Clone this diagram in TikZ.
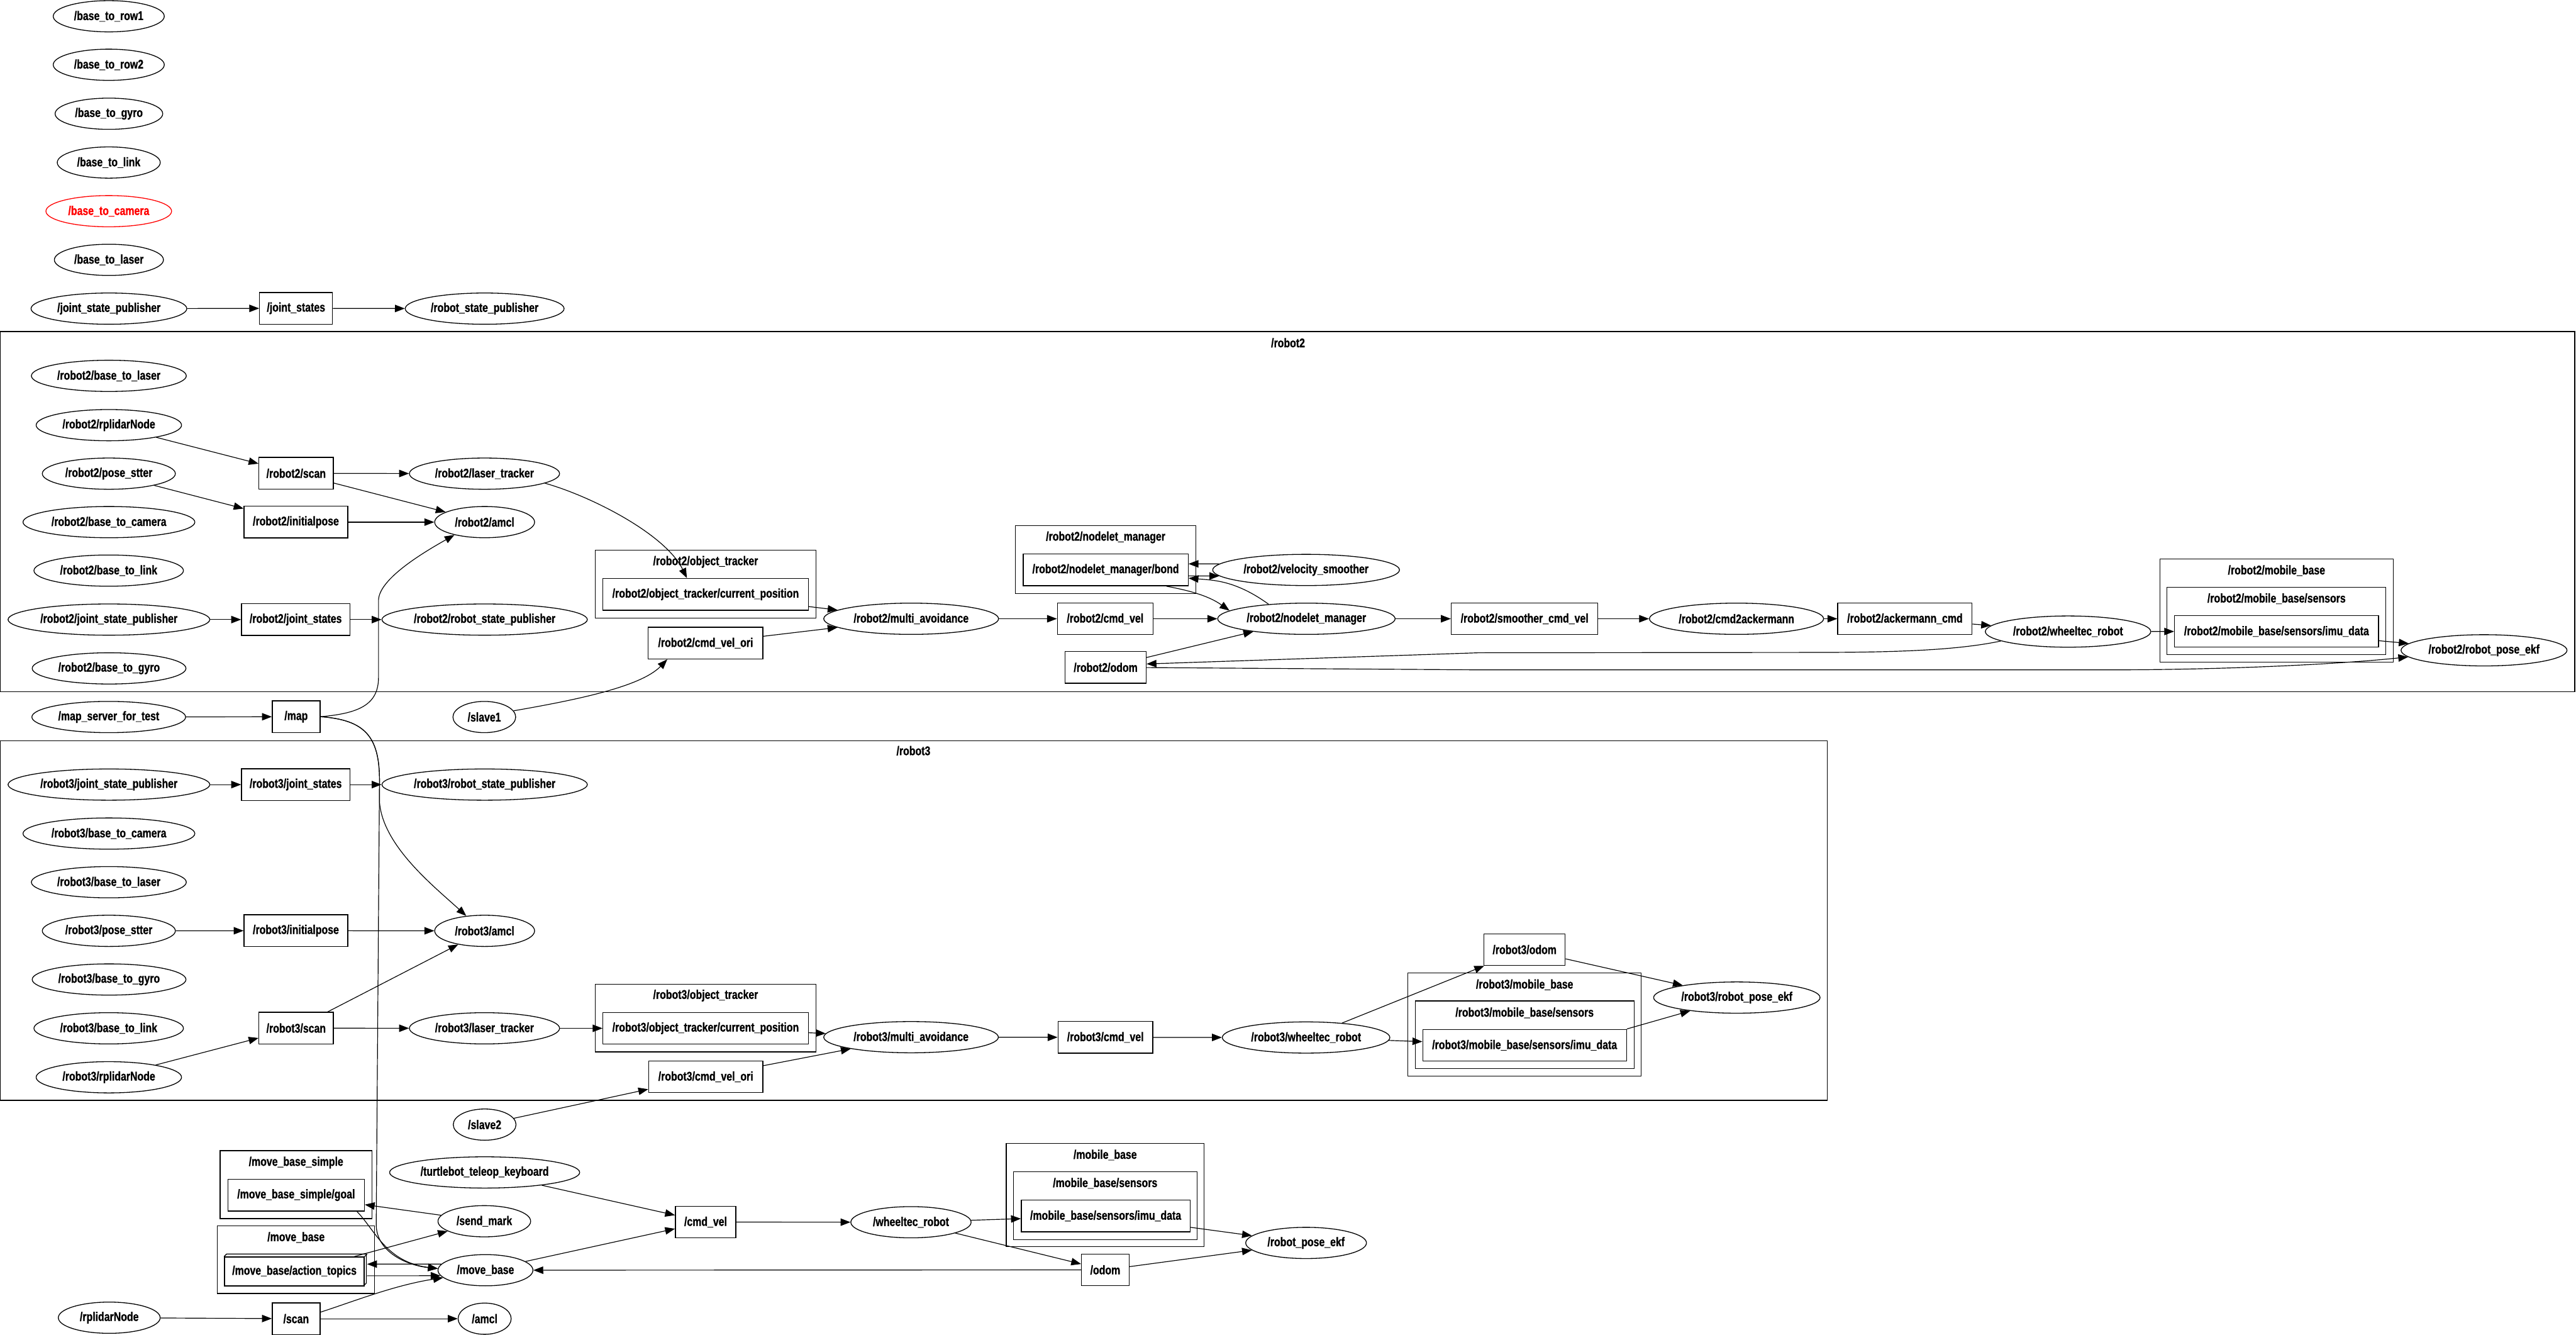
\documentclass[tikz,border=0pt]{standalone}
\usepackage{fontspec}
\newfontfamily\graphfont{Liberation Sans}[FakeStretch=0.79,BoldFeatures={FakeBold=0.8}]
\usetikzlibrary{shapes.geometric,arrows.meta}
\begin{document}
\begin{tikzpicture}[x=1mm,y=-1mm,
 every node/.style={font=\graphfont\bfseries\fontsize{21.9}{26}\selectfont},
 ell/.style={ellipse,draw,line width=0.5mm,inner sep=0pt,minimum height=19mm},
 tbox/.style={rectangle,draw,line width=0.5mm,inner sep=0pt,minimum height=19.3mm},
 clu/.style={draw,line width=0.5mm},
 lab/.style={inner sep=0pt},
 arr/.style={-{Triangle[length=6mm,width=4.5mm]},line width=0.45mm}]
\fill[white] (0,0) rectangle (1568,812);
\useasboundingbox (0,0) rectangle (1568,812);

% ---------- clusters ----------
\draw[clu] (0,201.7) rectangle (1567.2,420.8);
\node[lab] (lr2) at (784,208.6) {/robot2};
\draw[clu] (0,450.7) rectangle (1112.3,669.5);
\node[lab] (lr3) at (556,456.8) {/robot3};
\draw[clu] (362.3,334.7) rectangle (496.8,376);
\node[lab] (lr2ot) at (429.5,341.9) {/robot2/object\_tracker};
\draw[clu] (618.1,319.9) rectangle (727.9,361.1);
\node[lab] (lr2nmc) at (673,327) {/robot2/nodelet\_manager};
\draw[clu] (1314.7,340.2) rectangle (1456.7,402.8);
\node[lab] (lr2mb) at (1385.7,347.2) {/robot2/mobile\_base};
\draw[clu] (1319,357.3) rectangle (1452.3,398.4);
\node[lab] (lr2ms) at (1385.7,364.3) {/robot2/mobile\_base/sensors};
\draw[clu] (362.2,598.8) rectangle (496.7,640);
\node[lab] (lr3ot) at (429.5,605.8) {/robot3/object\_tracker};
\draw[clu] (857,591.9) rectangle (999,654.9);
\node[lab] (lr3mb) at (928,599.2) {/robot3/mobile\_base};
\draw[clu] (861.4,609.1) rectangle (994.6,650.3);
\node[lab] (lr3ms) at (928,616.3) {/robot3/mobile\_base/sensors};
\draw[clu] (134,700.2) rectangle (226.4,741.5);
\node[lab] (lmbs) at (180.2,707.4) {/move\_base\_simple};
\draw[clu] (132.3,745.8) rectangle (228,787.1);
\node[lab] (lmbc) at (180.2,752.9) {/move\_base};
\draw[clu] (612.5,695.8) rectangle (733,758.6);
\node[lab] (lmob) at (672.7,702.8) {/mobile\_base};
\draw[clu] (616.9,713) rectangle (728.8,754.3);
\node[lab] (lmobs) at (672.7,720) {/mobile\_base/sensors};

% ---------- top ----------
\node[ell,minimum width=67.6mm] (row1) at (66.2,9.9) {/base\_to\_row1};
\node[ell,minimum width=67.6mm] (row2) at (66.2,39.4) {/base\_to\_row2};
\node[ell,minimum width=65.5mm] (gyro) at (66.3,69.2) {/base\_to\_gyro};
\node[ell,minimum width=62.7mm] (link) at (66.2,98.9) {/base\_to\_link};
\node[ell,minimum width=76.5mm,draw=red,text=red] (cam) at (66.2,128.5) {/base\_to\_camera};
\node[ell,minimum width=66.4mm] (las) at (66.3,158.1) {/base\_to\_laser};
\node[ell,minimum width=94.8mm] (jsp) at (66.3,187.8) {/joint\_state\_publisher};
\node[tbox,minimum width=44.4mm] (js) at (180.2,187.6) {/joint\_states};
\node[ell,minimum width=96.7mm] (rsp) at (295,187.8) {/robot\_state\_publisher};

% ---------- robot2 ----------
\node[ell,minimum width=94.3mm] (r2btl) at (66.25,228.7) {/robot2/base\_to\_laser};
\node[ell,minimum width=88.5mm] (r2rp) at (66.25,258.7) {/robot2/rplidarNode};
\node[ell,minimum width=81mm] (r2ps) at (66.25,288.2) {/robot2/pose\_stter};
\node[ell,minimum width=104.6mm] (r2btc) at (66.3,317.7) {/robot2/base\_to\_camera};
\node[ell,minimum width=91mm] (r2btk) at (66.15,347.2) {/robot2/base\_to\_link};
\node[ell,minimum width=122.8mm] (r2jsp) at (66.3,377) {/robot2/joint\_state\_publisher};
\node[ell,minimum width=93.6mm] (r2btg) at (66.4,406.7) {/robot2/base\_to\_gyro};
\node[tbox,minimum width=45.3mm] (r2sc) at (180.25,288) {/robot2/scan};
\node[tbox,minimum width=63.2mm] (r2ip) at (180.1,317.7) {/robot2/initialpose};
\node[tbox,minimum width=66mm] (r2js) at (180,377) {/robot2/joint\_states};
\node[ell,minimum width=91.4mm] (r2lt) at (294.9,288.2) {/robot2/laser\_tracker};
\node[ell,minimum width=60.8mm] (r2am) at (295,317.7) {/robot2/amcl};
\node[ell,minimum width=125mm] (r2rsp) at (295,377) {/robot2/robot\_state\_publisher};
\node[tbox,minimum width=125mm] (r2cp) at (429.5,361.65) {/robot2/object\_tracker/current\_position};
\node[tbox,minimum width=69.8mm] (r2cvo) at (429.5,391.3) {/robot2/cmd\_vel\_ori};
\node[ell,minimum width=106.4mm] (r2ma) at (554.6,376.5) {/robot2/multi\_avoidance};
\node[tbox,minimum width=100.4mm] (r2bd) at (673,346.8) {/robot2/nodelet\_manager/bond};
\node[ell,minimum width=113.7mm] (r2vs) at (795,346.8) {/robot2/velocity\_smoother};
\node[tbox,minimum width=58.2mm] (r2cv) at (672.7,376.5) {/robot2/cmd\_vel};
\node[ell,minimum width=108mm] (r2nm) at (795.2,376.5) {/robot2/nodelet\_manager};
\node[tbox,minimum width=49.3mm] (r2od) at (673,406.1) {/robot2/odom};
\node[tbox,minimum width=89.3mm] (r2scv) at (928,376.5) {/robot2/smoother\_cmd\_vel};
\node[ell,minimum width=106mm] (r2c2a) at (1057,376.5) {/robot2/cmd2ackermann};
\node[tbox,minimum width=81.8mm] (r2ack) at (1159.5,376.5) {/robot2/ackermann\_cmd};
\node[ell,minimum width=100.7mm] (r2wt) at (1258.8,384.3) {/robot2/wheeltec\_robot};
\node[tbox,minimum width=124.2mm] (r2imu) at (1385.7,384.2) {/robot2/mobile\_base/sensors/imu\_data};
\node[ell,minimum width=101mm] (r2ek) at (1512,395.7) {/robot2/robot\_pose\_ekf};

% ---------- between ----------
\node[ell,minimum width=93.6mm] (msrv) at (66.2,436.3) {/map\_server\_for\_test};
\node[tbox,minimum width=29.1mm] (mp) at (180.25,436.1) {/map};
\node[ell,minimum width=38.2mm] (sl1) at (294.8,436.3) {/slave1};

% ---------- robot3 ----------
\node[ell,minimum width=122.8mm] (r3jsp) at (66.3,477.4) {/robot3/joint\_state\_publisher};
\node[ell,minimum width=104.6mm] (r3btc) at (66.3,507.2) {/robot3/base\_to\_camera};
\node[ell,minimum width=94.3mm] (r3btl) at (66.25,536.8) {/robot3/base\_to\_laser};
\node[ell,minimum width=81mm] (r3ps) at (66.25,566.4) {/robot3/pose\_stter};
\node[ell,minimum width=93.6mm] (r3btg) at (66.4,596) {/robot3/base\_to\_gyro};
\node[ell,minimum width=91mm] (r3btk) at (66.15,625.7) {/robot3/base\_to\_link};
\node[ell,minimum width=88.5mm] (r3rp) at (66.25,655.5) {/robot3/rplidarNode};
\node[tbox,minimum width=66mm] (r3js) at (180,477.4) {/robot3/joint\_states};
\node[tbox,minimum width=63.2mm] (r3ip) at (180.1,566.3) {/robot3/initialpose};
\node[tbox,minimum width=45.3mm] (r3sc) at (180.25,625.6) {/robot3/scan};
\node[ell,minimum width=125mm] (r3rsp) at (295,477.4) {/robot3/robot\_state\_publisher};
\node[ell,minimum width=60.8mm] (r3am) at (295,566.4) {/robot3/amcl};
\node[ell,minimum width=91.4mm] (r3lt) at (294.9,625.7) {/robot3/laser\_tracker};
\node[tbox,minimum width=125mm] (r3cp) at (429.5,625.7) {/robot3/object\_tracker/current\_position};
\node[tbox,minimum width=69.6mm] (r3cvo) at (429.6,655.2) {/robot3/cmd\_vel\_ori};
\node[ell,minimum width=106.3mm] (r3ma) at (554.55,631.1) {/robot3/multi\_avoidance};
\node[tbox,minimum width=57.7mm] (r3cv) at (672.85,631.2) {/robot3/cmd\_vel};
\node[ell,minimum width=102mm] (r3wt) at (795,631.3) {/robot3/wheeltec\_robot};
\node[tbox,minimum width=49.4mm] (r3od) at (928,577.8) {/robot3/odom};
\node[tbox,minimum width=124mm] (r3imu) at (928,636) {/robot3/mobile\_base/sensors/imu\_data};
\node[ell,minimum width=101.3mm] (r3ek) at (1057.2,607) {/robot3/robot\_pose\_ekf};

% ---------- bottom ----------
\node[ell,minimum width=38.2mm] (sl2) at (295,684.3) {/slave2};
\node[tbox,minimum width=83.1mm] (gl) at (180.25,727.2) {/move\_base\_simple/goal};
\node[tbox,minimum width=85mm,minimum height=17.7mm] (at) at (179.2,773.65) {/move\_base/action\_topics};
\draw[line width=0.5mm] (at.north west) -- ++(1.5,-1.5) -- ++(85,0) -- ++(0,17.7) -- ++(-1.5,1.5);
\draw[line width=0.5mm] (at.north east) -- ++(1.5,-1.5);
\node[ell,minimum width=115.7mm] (tt) at (295,713.4) {/turtlebot\_teleop\_keyboard};
\node[ell,minimum width=56.4mm] (sm) at (294.8,743.1) {/send\_mark};
\node[ell,minimum width=57.8mm] (mb) at (295.5,772.9) {/move\_base};
\node[tbox,minimum width=36.8mm] (cv) at (429.5,743.6) {/cmd\_vel};
\node[ell,minimum width=73.2mm] (wt) at (554.5,743.7) {/wheeltec\_robot};
\node[tbox,minimum width=102.7mm] (imu) at (673,739.85) {/mobile\_base/sensors/imu\_data};
\node[tbox,minimum width=28.9mm] (od) at (672.75,772.7) {/odom};
\node[ell,minimum width=73.5mm] (ek) at (795,756.3) {/robot\_pose\_ekf};
\node[ell,minimum width=62mm] (rp) at (66.5,801.8) {/rplidarNode};
\node[tbox,minimum width=29.1mm] (scb) at (180.25,802.4) {/scan};
\node[ell,minimum width=32.3mm] (amc) at (295,802.4) {/amcl};

% ---------- edges: top ----------
\draw[arr] (jsp) -- (js);
\draw[arr] (js) -- (rsp);

% ---------- edges: robot2 ----------
\draw[arr] (r2rp) -- (r2sc);
\draw[arr] (r2ps) -- (r2ip);
\draw[arr] (r2sc) -- (r2lt);
\draw[arr] (r2sc) -- (r2am);
\draw[arr] (r2ip) -- (r2am);
\draw[arr] (r2jsp) -- (r2js);
\draw[arr] (r2js) -- (r2rsp);
\draw[arr] (r2lt.-9) .. controls (360,302) and (405,325) .. (r2cp.139);
\draw[arr] (r2cp) -- (r2ma);
\draw[arr] (r2cvo) -- (r2ma);
\draw[arr] (r2ma) -- (r2cv);
\draw[arr] (r2cv) -- (r2nm);
\draw[arr] (r2vs.176) -- ([yshift=3.7mm]r2bd.east);
\draw[arr] ([yshift=-3.6mm]r2bd.east) -- (r2vs.184);
\draw[arr] (r2nm.159) .. controls (752,353) and (738,353) .. ([yshift=-5mm]r2bd.east);
\draw[arr] (r2bd.-15) .. controls (722,359) and (735,362) .. (r2nm.174);
\draw[arr] (r2od) -- (r2nm);
\draw[arr] (r2nm) -- (r2scv);
\draw[arr] (r2scv) -- (r2c2a);
\draw[arr] (r2c2a) -- (r2ack);
\draw[arr] (r2ack) -- (r2wt);
\draw[arr] (r2wt) -- (r2imu);
\draw[arr] (r2imu) -- (r2ek);
\draw[arr] (r2wt.188) .. controls (1190,396) and (1150,397) .. (1100,397) -- (900,397.2) -- ([yshift=2.1mm]r2od.east);
\draw[arr] ([yshift=-0.1mm]r2od.east) -- (900,407.6) -- (1284,407.6) .. controls (1350,407.6) and (1420,404.5) .. (r2ek.185);

% ---------- edges: map / slaves ----------
\draw[arr] (msrv) -- (mp);
\draw[arr] (mp.east) .. controls (220,434) and (230.4,428) .. (230.4,412) -- (230.4,365) .. controls (231,352) and (258,336) .. (r2am.203);
\draw[arr] (mp.east) .. controls (222,438) and (231,448) .. (231,475) -- (231,488) .. controls (233,515) and (265,540) .. (r3am.141);
\draw[arr] (mp.east) .. controls (222,438) and (231,448) .. (231,475) -- (229,745) .. controls (229,762) and (248,770) .. (mb.178);
\draw[arr] (sl1.12) .. controls (350,426) and (390,418) .. (r2cvo.203);
\draw[arr] (sl2) -- (r3cvo);

% ---------- edges: robot3 ----------
\draw[arr] (r3jsp) -- (r3js);
\draw[arr] (r3js) -- (r3rsp);
\draw[arr] (r3ps) -- (r3ip);
\draw[arr] (r3ip) -- (r3am);
\draw[arr] (r3rp) -- (r3sc);
\draw[arr] (r3sc) -- (r3am);
\draw[arr] (r3sc) -- (r3lt);
\draw[arr] (r3lt) -- (r3cp);
\draw[arr] (r3cp) -- (r3ma);
\draw[arr] (r3cvo) -- (r3ma);
\draw[arr] (r3ma) -- (r3cv);
\draw[arr] (r3cv) -- (r3wt);
\draw[arr] (r3wt) -- (r3od);
\draw[arr] (r3wt) -- (r3imu);
\draw[arr] (r3od) -- (r3ek);
\draw[arr] (r3imu.north east) -- (r3ek);

% ---------- edges: bottom ----------
\draw[arr] (tt) -- (cv);
\draw[arr] (mb) -- (cv);
\draw[arr] (cv) -- (wt);
\draw[arr] (wt) -- (imu);
\draw[arr] (wt) -- (od);
\draw[arr] (imu) -- (ek);
\draw[arr] (od) -- (ek);
\draw[arr] (od) -- (mb);
\draw[arr] (sm) -- (gl);
\draw[arr] (at.14) -- (sm);
\draw[arr] (mb.172) -- ([xshift=1.5mm,yshift=4.45mm]at.east);
\draw[arr] ([xshift=1.5mm,yshift=-2.65mm]at.east) -- (mb.187);
\draw[arr] (gl.-15) .. controls (228,748) and (235,768) .. (mb.178);
\draw[arr] (rp) -- (scb);
\draw[arr] (scb) -- (amc);
\draw[arr] (scb.15) .. controls (215,792) and (240,782) .. (mb.190);
\end{tikzpicture}
\end{document}
